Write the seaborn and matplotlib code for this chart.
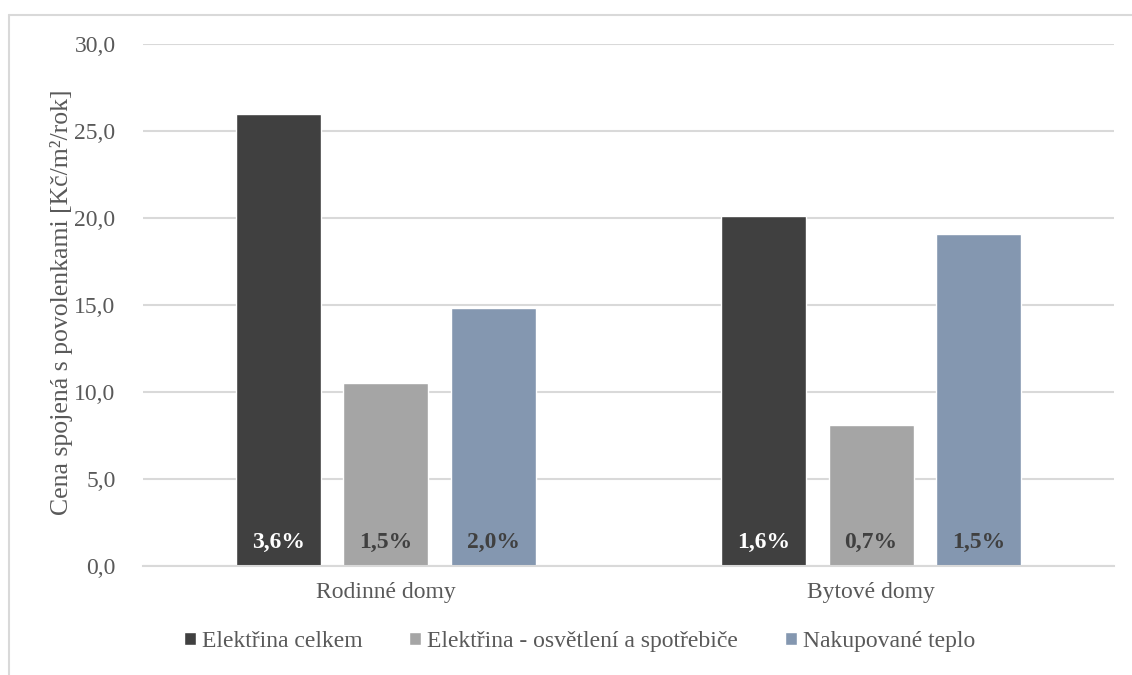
import matplotlib
matplotlib.use("Agg")
import matplotlib.pyplot as plt
import seaborn as sns
import pandas as pd
from matplotlib.lines import Line2D

# data
categories = ["Rodinné domy", "Bytové domy"]
series = ["Elektřina celkem", "Elektřina - osvětlení a spotřebiče", "Nakupované teplo"]
elektrina_celkem = [26.0, 20.1]
elektrina_osvetleni = [10.5, 8.1]
nakupovane_teplo = [14.8, 19.1]
podil_celkem = [3.6, 1.6]
podil_osvetleni = [1.5, 0.7]
podil_teplo = [2.0, 1.5]

colors = ["#404040", "#A5A5A5", "#8497B0"]
label_colors = ["white", "#404040", "#404040"]
text_color = "#595959"
grid_color = "#D9D9D9"

values = [elektrina_celkem, elektrina_osvetleni, nakupovane_teplo]
shares = [podil_celkem, podil_osvetleni, podil_teplo]

rows = []
for s, vals in zip(series, values):
    for c, v in zip(categories, vals):
        rows.append({"kategorie": c, "serie": s, "hodnota": v})
df = pd.DataFrame(rows)

sns.set_theme(style="white")
plt.rcParams["font.family"] = ["Liberation Serif", "DejaVu Serif"]
plt.rcParams["font.size"] = 17

fig = plt.figure(figsize=(11.32, 6.75), dpi=100)
ax = fig.add_axes([0.1266, 0.1619, 0.8572, 0.7725])

sns.barplot(data=df, x="kategorie", y="hodnota", hue="serie", order=categories,
            hue_order=series, palette=colors, width=0.665, gap=0.21,
            saturation=1, ax=ax, legend=True, errorbar=None)

# percentage labels inside bars
for i, cont in enumerate(ax.containers):
    for j, bar in enumerate(cont):
        x = bar.get_x() + bar.get_width() / 2
        ax.text(x, 1.35, f"{shares[i][j]:.1f}%".replace(".", ","), ha="center", va="center",
                fontsize=17, fontweight="bold", color=label_colors[i])

ax.set_ylim(0, 30)
ax.set_xlim(-0.5, 1.5)
ax.set_yticks([0, 5, 10, 15, 20, 25, 30])
ax.set_yticklabels([f"{t:.1f}".replace(".", ",") for t in ax.get_yticks()])
ax.yaxis.grid(True, color=grid_color, linewidth=1.5)
ax.set_axisbelow(True)
for sp in ["top", "right", "left"]:
    ax.spines[sp].set_visible(False)
ax.spines["bottom"].set_color(grid_color)
ax.spines["bottom"].set_linewidth(1.5)
ax.tick_params(axis="y", length=0, pad=20, colors=text_color, labelsize=17)
ax.tick_params(axis="x", length=0, pad=12, colors=text_color, labelsize=17)
ax.set_xlabel("")
ax.set_ylabel("Cena spojená s povolenkami [Kč/m²/rok]", color=text_color, fontsize=18.5)
ax.yaxis.set_label_coords(-0.072, 0.505)

handles, labels = ax.get_legend_handles_labels()
ax.get_legend().remove()
leg = fig.legend(handles, labels, loc="center", bbox_to_anchor=(0.512, 0.05),
                 ncol=3, frameon=False, fontsize=17, handlelength=0.5, handleheight=0.5,
                 handletextpad=0.25, columnspacing=2.0)
for t in leg.get_texts():
    t.set_color(text_color)

# chart area border (top and left visible)
x0 = 8.5 / 1132
y0 = 1 - 15 / 675
fig.add_artist(Line2D([x0, 1.0], [y0, y0], transform=fig.transFigure, color=grid_color, linewidth=1.5))
fig.add_artist(Line2D([x0, x0], [0, y0], transform=fig.transFigure, color=grid_color, linewidth=1.5))

fig.savefig("out.png", dpi=100)
